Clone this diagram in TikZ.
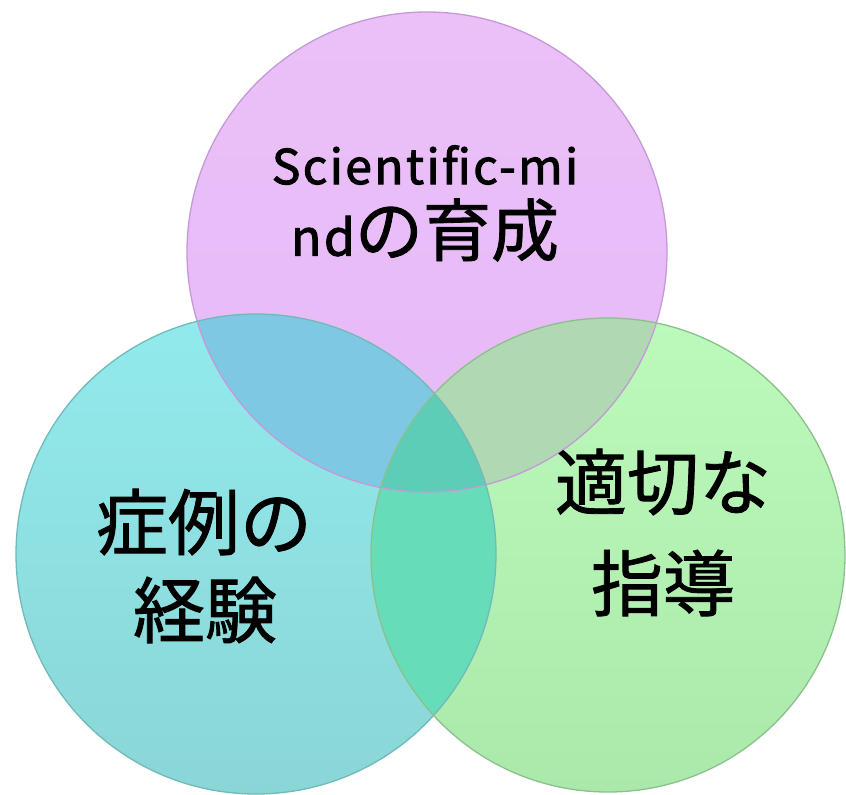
\documentclass[tikz,border=0pt]{standalone}
\usepackage{fontspec}
\setmainfont{Noto Sans CJK JP}[FakeBold=1.2,BoldFont={Noto Sans CJK JP}]
\newfontfamily\latinfont{Noto Sans CJK JP}[LetterSpace=5,FakeBold=2]
\newfontfamily\cjkfont{Noto Sans CJK JP}[FakeBold=1.2]
\definecolor{pcol}{HTML}{E6B9F5}
\definecolor{ptop}{HTML}{EBC0F8}
\definecolor{ctop}{HTML}{92EAEC}
\definecolor{cbot}{HTML}{8AD6D6}
\definecolor{gtop}{HTML}{BCFABC}
\definecolor{gbot}{HTML}{ABE9AB}
\definecolor{pc}{HTML}{7EC8E4}
\definecolor{pg}{HTML}{B0D8B2}
\definecolor{cg}{HTML}{66DDB8}
\definecolor{pcg}{HTML}{5ECDB8}
\definecolor{pedge}{HTML}{C49AD6}
\definecolor{cedge}{HTML}{4FA8A8}
\definecolor{gedge}{HTML}{6EB070}
\tikzset{
  label/.style={inner sep=0pt, font=\cjkfont\fontsize{72}{72}\selectfont, text=black},
  edge/.style={line width=1.3pt},
}
\begin{document}
\begin{tikzpicture}[x=1pt,y=-1pt]
\useasboundingbox (0,0) rectangle (846,795);
\coordinate (P) at (427,252);
\coordinate (C) at (256,554);
\coordinate (G) at (608,555);
% base fills
\shade[top color=ptop, bottom color=pcol] (P) circle[radius=240pt];
\shade[top color=ctop, bottom color=cbot] (C) circle[radius=240pt];
\shade[top color=gtop, bottom color=gbot] (G) circle[radius=237pt];
% pairwise overlaps
\begin{scope}
  \clip (P) circle[radius=240pt];
  \fill[pc] (C) circle[radius=240pt];
  \fill[pg] (G) circle[radius=237pt];
\end{scope}
\begin{scope}
  \clip (C) circle[radius=240pt];
  \fill[cg] (G) circle[radius=237pt];
  \clip (G) circle[radius=237pt];
  \fill[pcg] (P) circle[radius=240pt];
\end{scope}
% outlines
\draw[edge, pedge] (P) circle[radius=240pt];
\draw[edge, cedge!80] (C) circle[radius=240pt];
\draw[edge, gedge!80] (G) circle[radius=237pt];
% labels
\node[inner sep=0pt, font=\latinfont\fontsize{48}{48}\selectfont] (t1) at (425,165) {Scientific-mi};
\node[inner sep=0pt] (t2) at (425,230) {{\latinfont\fontsize{50}{50}\selectfont nd}{\cjkfont\fontsize{68}{68}\selectfont の育成}};
\node[label] (l1) at (204,522) {症例の};
\node[label] (l2) at (205,610) {経験};
\node[label] (r1) at (663,482) {適切な};
\node[label] (r2) at (663,583) {指導};
\end{tikzpicture}
\end{document}
